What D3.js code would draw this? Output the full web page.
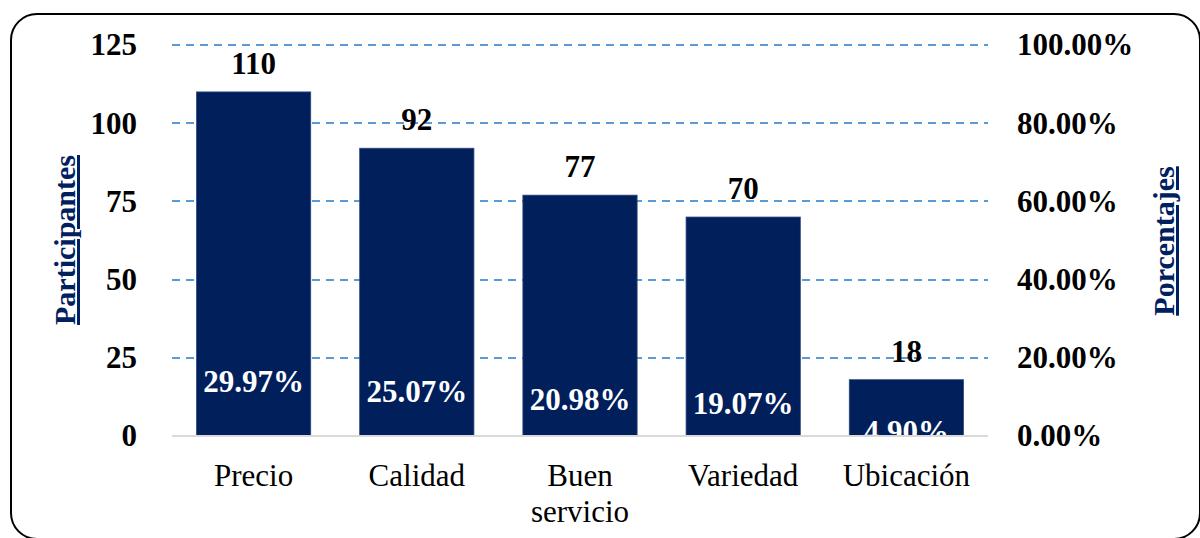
<!DOCTYPE html>
<html>
<head>
<meta charset="utf-8">
<script src="https://cdn.jsdelivr.net/npm/d3@7"></script>
<style>
    body { margin: 0; background: #fff; }
    svg text { font-family: "Liberation Serif", "Times New Roman", serif; }
</style>
</head>
<body>
<svg id="chart" width="1200" height="538"></svg>
<script>
/*global d3*/

var categories = ["Precio", "Calidad", "Buen servicio", "Variedad", "Ubicación"];
var participantes = [110, 92, 77, 70, 18];
var porcentajes = [29.97, 25.07, 20.98, 19.07, 4.90];
var leftTicks = [0, 25, 50, 75, 100, 125];
var rightTicks = [0, 0.2, 0.4, 0.6, 0.8, 1.0];

var svg = d3.select("#chart");
var margin = {top: 45, right: 212, bottom: 102, left: 172};
var width = 1200 - margin.left - margin.right;
var height = 538 - margin.top - margin.bottom;

// outer rounded frame
svg.append("rect")
    .attr("x", 11).attr("y", 14)
    .attr("width", 1189).attr("height", 525)
    .attr("rx", 26).attr("ry", 26)
    .attr("fill", "#fff")
    .attr("stroke", "#000")
    .attr("stroke-width", 2);

var root = svg.append("g")
    .attr("transform", "translate(" + margin.left + "," + margin.top + ")");

var x = d3.scaleBand().domain(categories).range([0, width]).paddingInner(0.3).paddingOuter(0.15);
var y = d3.scaleLinear().domain([0, 125]).range([height, 0]);
var yPct = d3.scaleLinear().domain([0, 1]).range([height, 0]);
// where Excel put the inside-base percentage labels (baseline)
var yPctLabel = d3.scaleLinear().domain([0, 100]).range([height + 16, height + 16 - 200]);

root.append("clipPath").attr("id", "plotClip")
    .append("rect").attr("x", 0).attr("y", -10).attr("width", width).attr("height", height + 10);

// gridlines
root.selectAll(".grid")
    .data(leftTicks.filter(function (d) { return d > 0; }))
    .enter().append("line")
    .attr("x1", 0).attr("x2", width)
    .attr("y1", function (d) { return Math.round(y(d)); })
    .attr("y2", function (d) { return Math.round(y(d)); })
    .attr("stroke", "#5B9BD5")
    .attr("stroke-width", 2)
    .attr("stroke-dasharray", "8,6");

// bars
root.selectAll(".bar")
    .data(categories)
    .enter().append("rect")
    .attr("x", function (d) { return x(d); })
    .attr("y", function (d, i) { return y(participantes[i]); })
    .attr("width", x.bandwidth())
    .attr("height", function (d, i) { return height - y(participantes[i]); })
    .attr("fill", "#011F5B")
    .attr("stroke", "#2F4A7F")
    .attr("stroke-width", 0.8);

// percentage labels inside bars
root.append("g").attr("clip-path", "url(#plotClip)")
    .selectAll("text")
    .data(categories)
    .enter().append("text")
    .attr("x", function (d) { return x(d) + x.bandwidth() / 2; })
    .attr("y", function (d, i) { return yPctLabel(porcentajes[i]); })
    .attr("text-anchor", "middle")
    .attr("fill", "#fff")
    .attr("font-weight", "bold")
    .attr("font-size", 31)
    .text(function (d, i) { return porcentajes[i].toFixed(2) + "%"; });

// baseline
root.append("line")
    .attr("x1", 0).attr("x2", width)
    .attr("y1", height).attr("y2", height)
    .attr("stroke", "#D9D9D9")
    .attr("stroke-width", 2);

// value labels above bars
root.selectAll(".val")
    .data(categories)
    .enter().append("text")
    .attr("x", function (d) { return x(d) + x.bandwidth() / 2; })
    .attr("y", function (d, i) { return y(participantes[i]) - 18; })
    .attr("text-anchor", "middle")
    .attr("font-weight", "bold")
    .attr("font-size", 31)
    .attr("fill", "#000")
    .text(function (d, i) { return participantes[i]; });

// left axis
var leftAxis = root.append("g")
    .call(d3.axisLeft(y).tickValues(leftTicks).tickSize(0).tickPadding(35));
leftAxis.select(".domain").remove();
leftAxis.selectAll("text")
    .attr("font-size", 31).attr("font-weight", "bold").attr("fill", "#000")
    .attr("font-family", "Liberation Serif");

// right axis
var rightAxis = root.append("g")
    .attr("transform", "translate(" + width + ",0)")
    .call(d3.axisRight(yPct).tickValues(rightTicks).tickSize(0).tickPadding(29).tickFormat(d3.format(".2%")));
rightAxis.select(".domain").remove();
rightAxis.selectAll("text")
    .attr("font-size", 31).attr("font-weight", "bold").attr("fill", "#000")
    .attr("font-family", "Liberation Serif");

// category labels (wrap two-word label)
var catG = root.selectAll(".cat")
    .data(categories)
    .enter().append("text")
    .attr("text-anchor", "middle")
    .attr("font-size", 31)
    .attr("fill", "#000")
    .attr("transform", function (d) { return "translate(" + (x(d) + x.bandwidth() / 2) + "," + (height + 50) + ")"; });
catG.each(function (d) {
    var words = d === "Buen servicio" ? ["Buen", "servicio"] : [d];
    var t = d3.select(this);
    words.forEach(function (w, i) {
        t.append("tspan").attr("x", 0).attr("y", i * 36).text(w);
    });
});

// axis titles
svg.append("text")
    .attr("transform", "translate(75,240) rotate(-90)")
    .attr("text-anchor", "middle")
    .attr("font-size", 30)
    .attr("font-weight", "bold")
    .attr("fill", "#002060")
    .attr("text-decoration", "underline")
    .text("Participantes");

svg.append("text")
    .attr("transform", "translate(1174,241) rotate(-90)")
    .attr("text-anchor", "middle")
    .attr("font-size", 30)
    .attr("font-weight", "bold")
    .attr("fill", "#002060")
    .attr("text-decoration", "underline")
    .text("Porcentajes");
</script>
</body>
</html>
